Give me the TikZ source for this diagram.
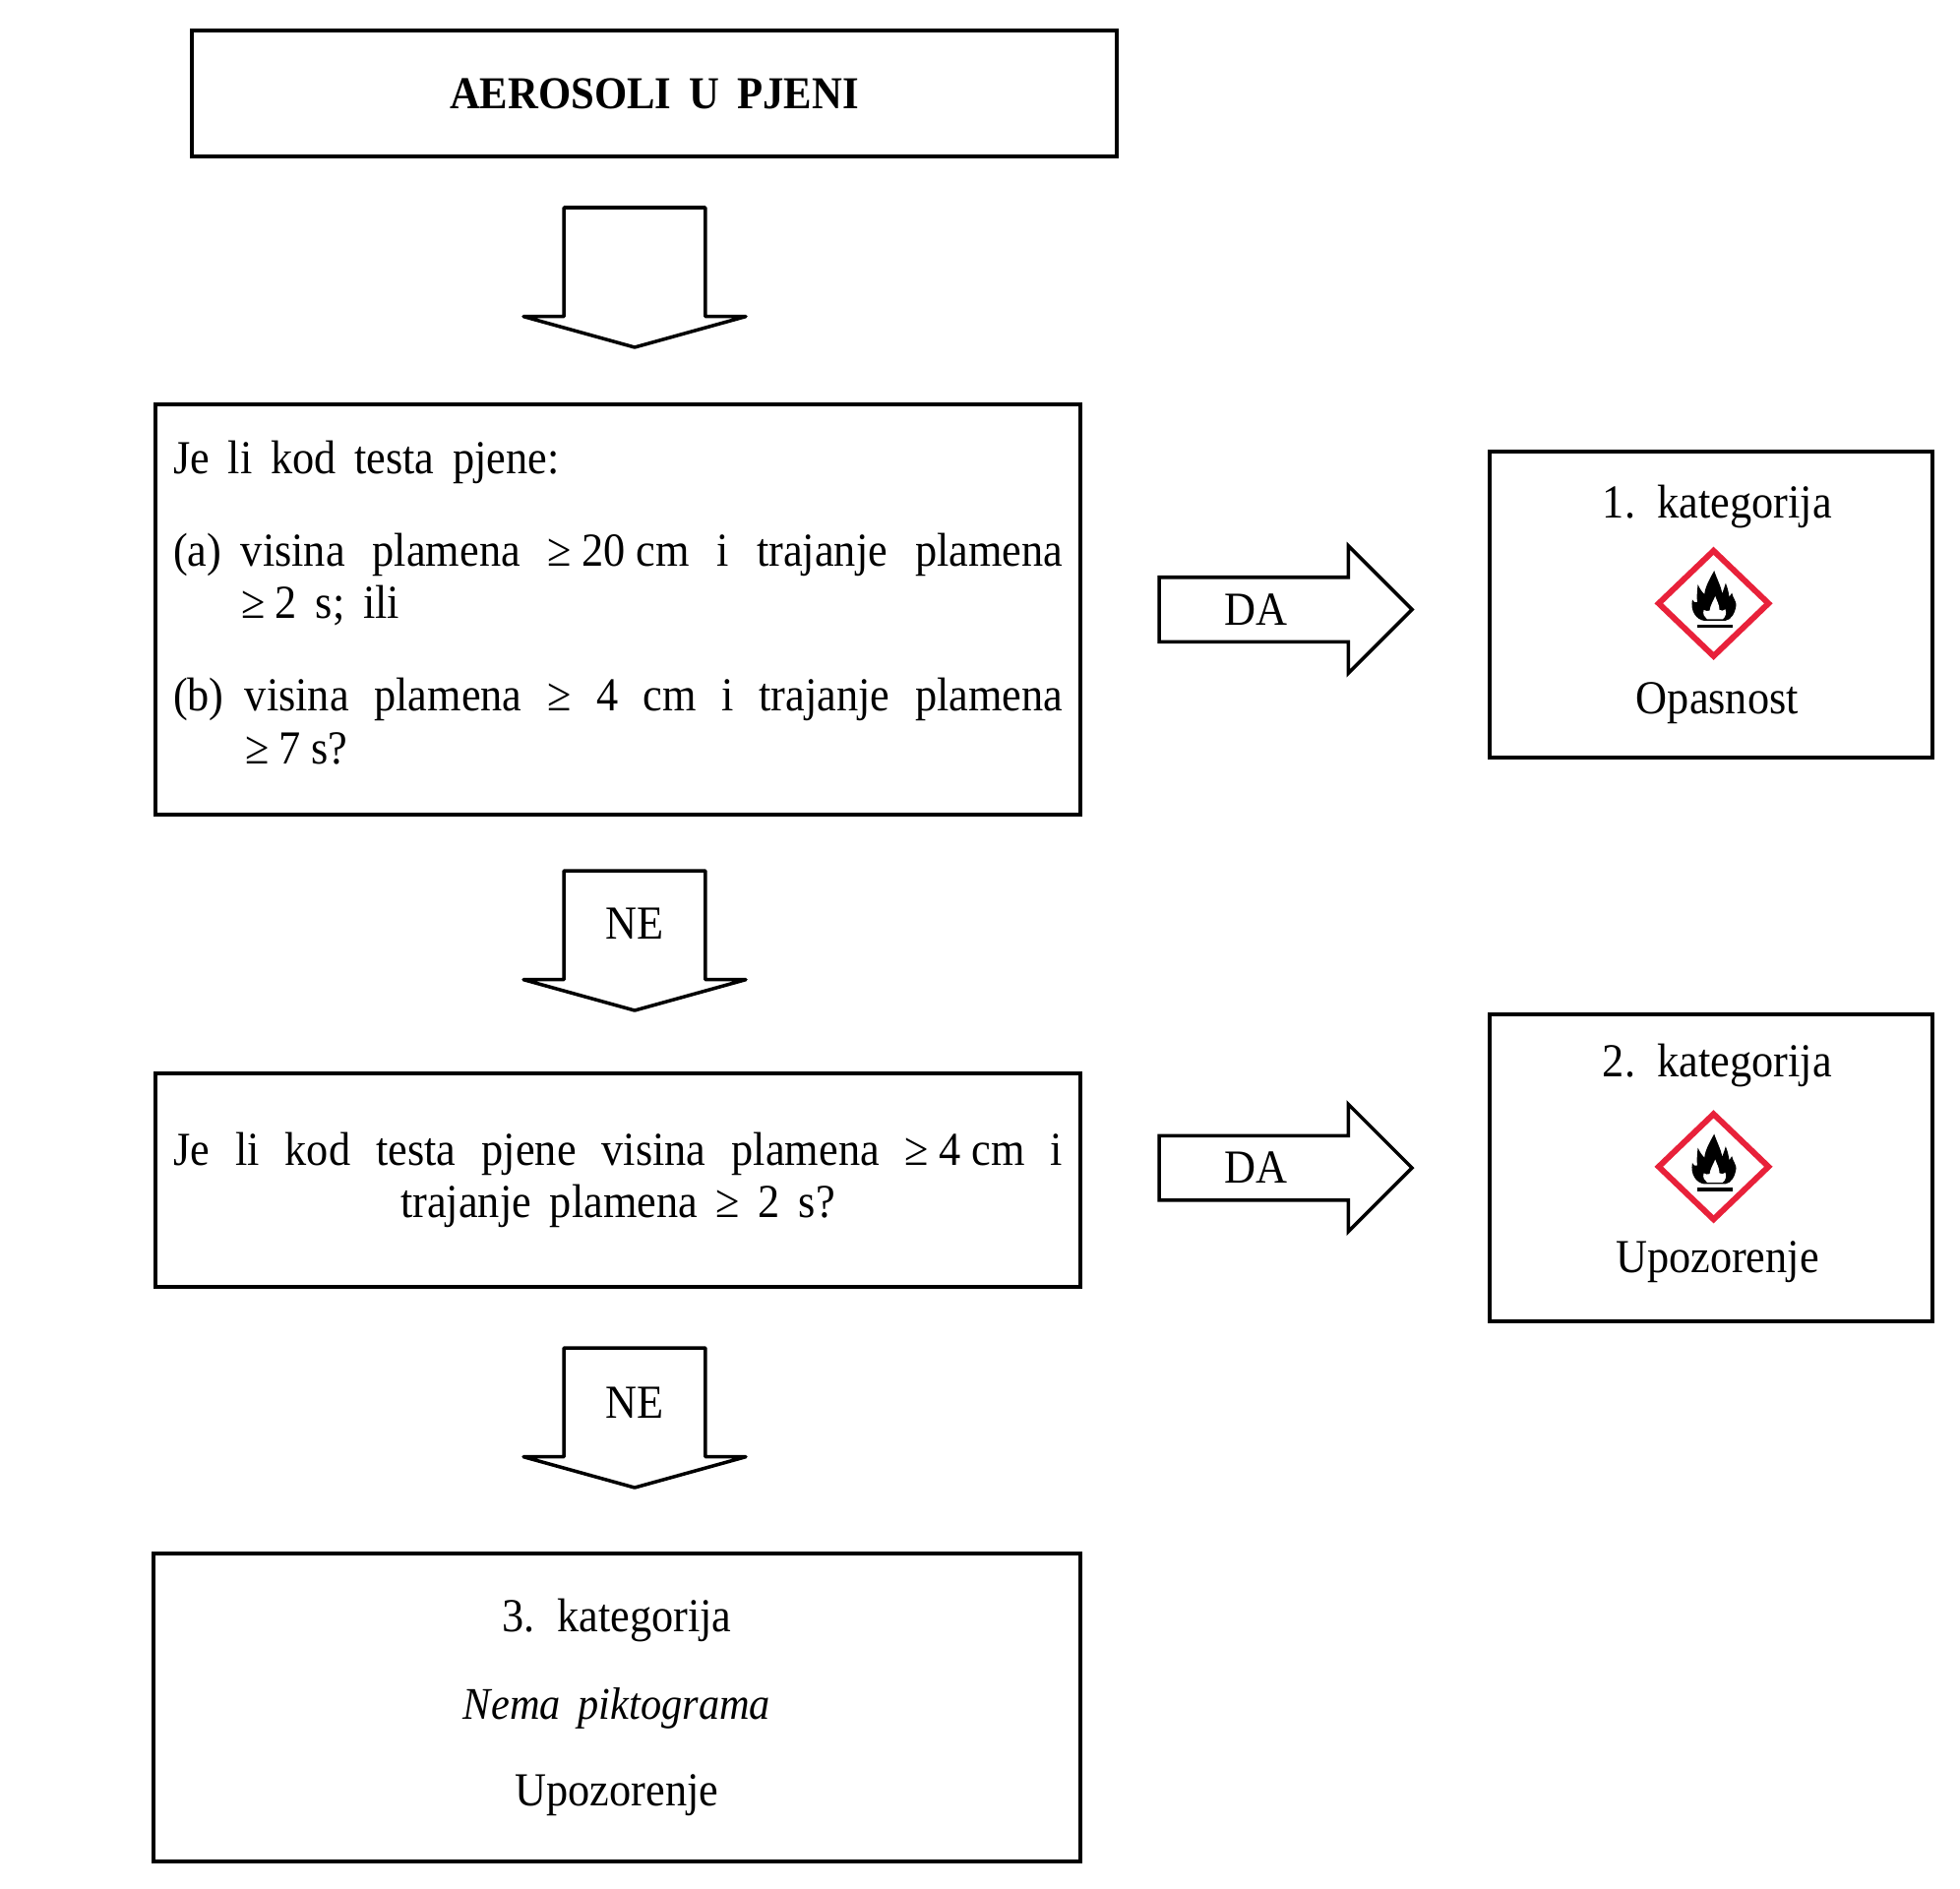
\documentclass[tikz,border=0pt]{standalone}
\usepackage{fontspec}
\setmainfont{Liberation Serif}[WordSpace=1.7,FakeStretch=0.92]
\usetikzlibrary{shapes.geometric,shapes.arrows,positioning}
\definecolor{ghsred}{HTML}{E8213A}
\newcommand{\tsp}{\hspace{3pt}}

\begin{document}
\begin{tikzpicture}[
    every node/.style={outer sep=0pt, font=\fontsize{13.7}{15.2}\selectfont},
    box/.style={rectangle, draw, line width=1.05pt, inner sep=0pt, align=center},
    dnarrow/.style={single arrow, shape border rotate=270, draw, line width=1pt, line join=round, inner xsep=0.7cm, inner ysep=0pt, minimum width=2.26cm, minimum height=1.42cm, single arrow head extend=0.41cm, single arrow tip angle=149, single arrow head indent=0pt},
    rtarrow/.style={single arrow, draw, line width=1pt, inner xsep=0pt, inner ysep=0.31cm, minimum width=1.27cm, minimum height=2.57cm, single arrow head extend=0.32cm, single arrow tip angle=90, single arrow head indent=0pt},
    ghs/.style={diamond, draw=ghsred, line width=1.7pt, inner sep=0pt, minimum width=1.115cm, minimum height=1.07cm, xshift=0.025cm, yshift=0.012cm},
    flame/.pic={
        \begin{scope}[x=0.00333cm, y=-0.00333cm]
        \fill (-28,53) .. controls (-52,50) and (-72,25) .. (-65,-12) .. controls (-60,-3) and (-54,0) .. (-50,-4)
            .. controls (-52,-20) and (-50,-40) .. (-48,-58) .. controls (-42,-45) and (-36,-35) .. (-28,-28)
            .. controls (-26,-50) and (-12,-75) .. (2,-100) .. controls (10,-75) and (24,-50) .. (26,-30)
            .. controls (30,-40) and (34,-52) .. (37,-62) .. controls (44,-45) and (46,-32) .. (48,-20)
            .. controls (51,-24) and (54,-28) .. (56,-32) .. controls (60,-15) and (70,-5) .. (69,5)
            .. controls (66,30) and (54,50) .. (36,53) -- cycle;
        \fill[white] (-20,48) .. controls (-28,42) and (-34,32) .. (-30,20) .. controls (-24,24) and (-18,24) .. (-12,22)
            .. controls (-10,5) and (0,-8) .. (5,-22) .. controls (10,-8) and (18,5) .. (18,20)
            .. controls (24,24) and (32,22) .. (36,18) .. controls (40,32) and (36,42) .. (28,48) -- cycle;
        \fill (-51,65) rectangle (57,75);
        \end{scope}
    }
]
\useasboundingbox (0,0) rectangle (19.92,-19.2);

% Title
\node[box, minimum width=9.4cm, minimum height=1.28cm, font=\fontsize{13.2}{16}\bfseries\selectfont] (title) at (6.65,-0.95) {AEROSOLI U PJENI};

% Left column
\node[dnarrow, below=0.52cm of title, xshift=-0.2cm] (dn1) {};

\node[box, below=0.58cm of dn1, xshift=-0.17cm, minimum width=9.4cm, minimum height=4.17cm] (q1) {%
    \begin{minipage}{9.04cm}
    \setlength{\parskip}{0pt}
    \noindent Je li kod testa pjene:\par\vspace{11.5pt}
    \hangindent=0.69cm\hangafter=1\noindent\makebox[0.69cm][l]{(a)}visina plamena ≥\tsp 20\tsp cm i trajanje plamena\linebreak ≥\tsp 2 s; ili\par\vspace{11.5pt}
    \hangindent=0.73cm\hangafter=1\noindent\makebox[0.73cm][l]{(b)}visina plamena ≥ 4 cm i trajanje plamena\linebreak ≥\tsp 7\tsp s?\vspace{4pt}
    \end{minipage}};

\node[dnarrow, below=0.57cm of q1, xshift=0.17cm] (dn2) {};
\node (ne1) at ([yshift=0.07cm]dn2.center) {NE};

\node[box, below=0.64cm of dn2, xshift=-0.17cm, minimum width=9.4cm, minimum height=2.17cm] (q2) {%
    \begin{minipage}{9.04cm}
    \centering
    \makebox[\linewidth][s]{Je li kod testa pjene visina plamena ≥\tsp 4\tsp cm i}\\ trajanje plamena ≥ 2 s?
    \end{minipage}};

\node[dnarrow, below=0.62cm of q2, xshift=0.17cm] (dn3) {};
\node (ne2) at ([yshift=0.05cm]dn3.center) {NE};

\node[box, below=0.67cm of dn3, xshift=-0.18cm, minimum width=9.42cm, minimum height=3.13cm] (cat3) {%
    3. kategorija\\[10pt]{\fontsize{13.1}{15.2}\selectfont\itshape Nema piktograma}\\[10pt]Upozorenje};

% Right column
\node[rtarrow, right=0.8cm of q1] (ra1) {};
\node (da1) at ([xshift=-0.14cm]ra1.center) {DA};

\node[box, right=0.79cm of ra1, yshift=0.05cm, minimum width=4.5cm, minimum height=3.11cm] (cat1) {%
    \hspace*{3.6pt}1. kategorija\\[41.4pt]\hspace*{3.6pt}Opasnost};
\node[ghs] (sign1) at (cat1.center) {};
\pic at (sign1.center) {flame};

\node[rtarrow, right=0.8cm of q2, yshift=0.125cm] (ra2) {};
\node (da2) at ([xshift=-0.14cm]ra2.center) {DA};

\node[box, right=0.79cm of ra2, minimum width=4.5cm, minimum height=3.12cm] (cat2) {%
    \hspace*{3.6pt}2. kategorija\\[41.4pt]\hspace*{3.6pt}Upozorenje\rule[-5.6pt]{0pt}{0pt}};
\node[ghs] (sign2) at (cat2.center) {};
\pic at (sign2.center) {flame};

\end{tikzpicture}
\end{document}
